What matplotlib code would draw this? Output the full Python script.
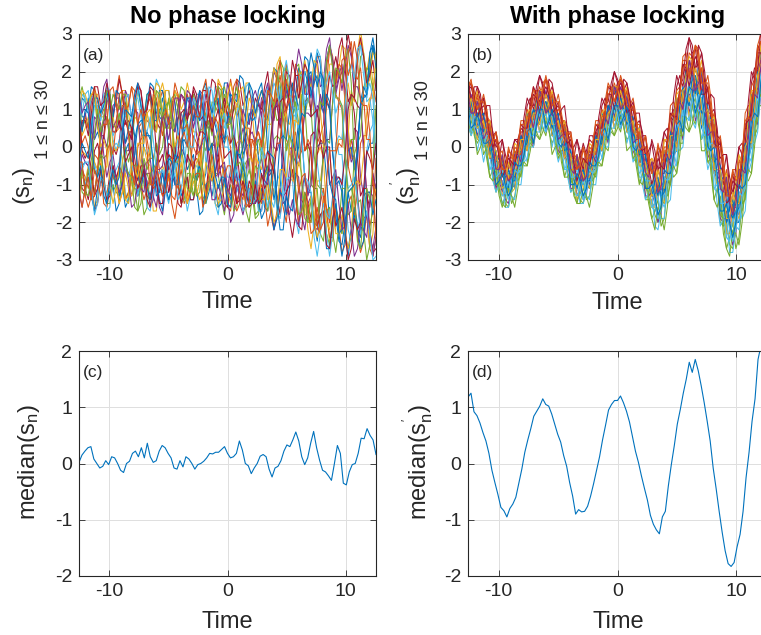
import numpy as np
import matplotlib
matplotlib.use('Agg')
import matplotlib.pyplot as plt

plt.rcParams['font.family'] = ['Liberation Sans', 'DejaVu Sans']
plt.rcParams['mathtext.fontset'] = 'custom'
plt.rcParams['mathtext.rm'] = 'Liberation Sans'
plt.rcParams['mathtext.it'] = 'Liberation Sans'
plt.rcParams['mathtext.bf'] = 'Liberation Sans:bold'
plt.rcParams['axes.unicode_minus'] = False

# MATLAB default line colour order
matlab_colors = ['#0072BD', '#D95319', '#EDB120', '#7E2F8E', '#77AC30', '#4DBEEE', '#A2142F']

t_min, t_max = -4 * np.pi, 4 * np.pi

# (a) 30 trajectories, no phase locking (values in tenths)
s_free_tenths = [
    [15,8,8,13,8,2,4,1,-9,-15,-11,-10,-17,-15,-8,-3,-8,-7,2,6,4,2,11,17,16,9,9,13,8,-2,-4,-1,-5,-13,-11,-8,-14,-14,-8,-4,-10,-7,4,8,6,2,9,17,17,12,14,14,5,-2,0,1,-4,-14,-15,-11,-16,-17,-10,-6,-14,-11,1,10,12,7,14,21,19,15,19,20,9,0,1,1,-8,-20,-21,-18,-25,-26,-20,-12,-17,-13,0,11,14,13,25,29,23],
    [-15,-6,-8,-11,-7,-2,-3,-5,2,8,6,7,14,19,14,8,11,16,15,5,6,8,2,-3,-3,1,-6,-11,-8,-8,-15,-19,-13,-10,-15,-13,-5,3,1,-5,-3,6,9,4,10,17,16,11,13,18,13,8,11,8,-1,-5,2,-1,-12,-15,-12,-9,-18,-22,-17,-12,-16,-20,-12,1,4,-3,-1,12,13,10,17,24,24,16,21,27,24,14,12,10,-3,-5,2,-2,-14,-22,-19,-18,-27,-29,-24],
    [1,-8,-9,-5,-8,-16,-14,-6,-7,-5,2,8,4,5,15,15,9,3,8,7,-1,-5,-4,-5,-17,-17,-9,-5,-7,-9,-2,10,14,10,12,17,13,4,4,2,-6,-11,-7,-7,-15,-16,-11,1,3,1,7,11,10,8,17,17,9,0,-2,2,-4,-14,-14,-11,-16,-17,-7,1,-2,-2,6,19,20,14,18,17,9,-2,0,-3,-17,-25,-25,-16,-19,-23,-17,3,15,12,22,28,24,20,25,17,-2],
    [-3,6,9,5,12,14,9,9,16,18,11,5,7,11,9,-1,-1,5,3,-6,-9,-4,-10,-13,-9,-9,-16,-18,-11,-5,-7,-10,-8,0,-2,-4,3,8,8,3,8,14,13,10,13,16,9,9,17,14,5,-2,1,5,2,-6,-9,-7,-16,-17,-10,-8,-15,-22,-18,-11,-15,-14,-6,2,-3,-5,2,9,9,8,20,23,16,17,26,29,21,14,18,20,15,0,-3,5,4,-8,-13,-12,-24,-27,-21],
    [13,5,7,6,-3,-7,-6,-1,-7,-15,-15,-10,-12,-13,-4,0,-4,-1,9,15,11,8,14,14,9,4,10,7,-3,-8,-7,-3,-9,-15,-14,-7,-7,-13,-9,0,1,-1,4,12,11,9,15,16,12,6,11,8,-2,-6,-4,-3,-13,-19,-18,-12,-12,-17,-10,2,3,2,9,16,12,11,21,22,16,8,13,10,-2,-10,-11,-11,-23,-26,-19,-16,-21,-23,-13,0,2,2,11,24,25,18,21,26,23],
    [-10,-6,-10,-7,2,11,11,7,11,16,15,2,-1,2,-4,-12,-15,-8,-11,-12,-5,0,-2,0,12,18,16,9,8,8,-1,-6,-3,-4,-11,-17,-13,-5,-5,-7,-4,9,12,10,16,16,10,0,0,-1,-10,-12,-9,-7,-16,-15,-7,1,2,2,12,16,11,11,19,15,0,-9,-8,-9,-19,-23,-15,-8,-12,-8,4,17,19,16,23,27,23,4,-2,-2,-12,-22,-25,-16,-20,-22,-14,-1,4,6,20],
    [-4,-11,-12,-6,-11,-17,-15,-9,-10,-13,-7,0,-2,1,10,12,4,4,12,16,15,7,10,16,15,7,5,7,0,-6,-4,-4,-10,-15,-10,-8,-14,-14,-9,-7,-15,-13,-4,1,0,-3,5,11,9,6,10,18,17,11,13,15,12,7,12,9,-2,-8,-7,-4,-13,-18,-13,-12,-19,-24,-18,-11,-14,-16,-11,3,4,1,9,15,13,10,20,24,19,17,24,30,25,13,11,10,1,-13,-16,-8,-11],
    [5,13,12,10,16,15,8,2,7,8,2,-7,-11,-5,-10,-16,-14,-8,-8,-13,-9,2,4,2,7,12,8,7,15,15,10,4,8,7,-2,-6,-4,-2,-11,-18,-17,-10,-9,-13,-8,2,3,1,6,14,13,12,19,18,12,6,10,7,-3,-8,-7,-5,-15,-22,-19,-12,-13,-18,-11,-2,-4,0,12,20,17,13,20,25,22,11,12,10,-2,-9,-8,-9,-23,-27,-22,-18,-22,-24,-15,-2,1,1,10],
    [7,1,3,0,-9,-12,-6,-6,-15,-16,-11,-5,-10,-15,-12,-6,-7,-13,-10,0,2,3,11,13,5,4,12,15,12,6,10,15,13,7,7,14,11,0,-2,-1,-6,-13,-10,-6,-11,-14,-11,-8,-16,-17,-10,-8,-12,-14,-7,2,2,1,6,12,8,7,16,21,18,11,16,22,18,12,14,17,8,-1,0,-1,-11,-19,-15,-11,-17,-24,-24,-16,-21,-28,-26,-15,-13,-18,-12,1,3,3,11,17,12],
    [-6,-1,-2,-3,7,14,14,8,8,13,9,0,-1,1,-3,-14,-15,-9,-11,-11,-6,0,-4,0,13,17,16,8,10,12,7,-4,-10,-4,-9,-14,-12,-9,-13,-9,4,9,6,5,11,18,16,7,6,6,1,-10,-11,-7,-11,-15,-13,-3,-4,-6,-1,6,6,8,22,24,16,7,6,9,1,-11,-14,-14,-22,-27,-20,-9,-9,-3,11,22,22,16,21,27,26,5,-3,-3,-13,-21,-21,-18,-27,-23,-10],
    [-12,-16,-11,-8,-14,-13,-7,3,3,0,5,11,12,5,9,15,13,8,10,9,-1,-8,-7,-7,-13,-16,-9,-6,-12,-12,-6,1,-3,-1,9,13,11,5,9,15,14,6,5,8,1,-6,-5,-6,-13,-20,-18,-10,-11,-13,-9,3,4,1,6,13,14,7,12,20,18,9,9,10,0,-8,-7,-8,-18,-22,-15,-13,-21,-22,-15,0,2,2,12,20,21,15,21,27,24,16,16,13,-2,-12,-12,-13,-23],
    [13,16,12,10,14,14,5,2,7,8,4,-8,-10,-6,-10,-14,-12,-6,-11,-17,-15,-8,-7,-10,-4,1,-2,0,8,13,8,5,11,16,15,7,10,14,10,4,5,9,4,-5,-7,-7,-14,-18,-12,-10,-17,-16,-10,-4,-9,-12,-8,0,2,-2,4,14,14,9,13,23,21,13,16,16,9,5,14,11,-2,-10,-11,-11,-23,-25,-17,-16,-23,-28,-21,-11,-11,-18,-17,-2,1,3,15,21,20,15,22],
    [11,9,14,15,7,-4,-8,-5,-9,-17,-16,-7,-6,-4,4,9,5,5,13,13,8,3,9,5,-6,-12,-12,-6,-10,-14,-11,-1,2,-1,7,13,12,10,14,14,5,-4,-6,-7,-15,-18,-11,-5,-8,-8,-2,9,11,9,16,17,12,7,12,4,-11,-16,-13,-9,-17,-19,-12,0,3,0,9,19,19,11,12,19,14,-4,-11,-13,-23,-29,-23,-11,-9,-9,-2,12,14,13,22,27,24,12,13,7,-9],
    [-10,-5,-11,-14,-9,-1,1,-3,3,12,13,9,12,18,14,6,7,5,-3,-9,-5,-5,-13,-14,-9,-4,-10,-13,-8,-2,-3,-3,7,14,13,8,9,16,14,7,8,6,-2,-9,-7,-3,-8,-15,-16,-8,-11,-15,-11,0,4,1,8,13,11,10,16,20,12,7,13,9,-2,-12,-10,-6,-12,-21,-22,-12,-15,-19,-14,-2,2,1,12,19,16,17,26,29,21,12,14,9,-3,-13,-11,-11,-22,-28,-27],
    [1,-5,-4,-5,-13,-17,-11,-6,-9,-13,-12,-5,-9,-13,-10,-1,1,-5,-2,6,7,7,14,15,7,7,15,15,10,6,12,12,4,1,4,7,0,-8,-9,-5,-8,-15,-12,-7,-11,-16,-15,-8,-12,-14,-8,-2,-2,-5,3,9,7,8,15,17,10,7,15,21,20,11,14,17,11,1,-1,7,3,-9,-12,-12,-20,-25,-18,-17,-27,-27,-19,-15,-23,-22,-11,-1,0,-6,-1,12,16,14,20,27,23],
    [-3,5,8,5,13,16,12,8,10,10,0,-8,-9,-5,-7,-14,-12,-7,-10,-7,2,9,7,6,14,13,7,3,10,8,-2,-9,-11,-6,-11,-15,-12,-4,-3,-5,4,12,12,9,13,16,9,2,3,0,-9,-15,-11,-9,-15,-16,-11,2,4,1,6,14,14,8,15,19,13,2,0,-1,-14,-20,-17,-13,-18,-20,-11,1,3,6,17,26,23,17,22,21,12,-5,-9,-11,-24,-28,-25,-17,-21,-17,-3],
    [11,3,5,8,3,-4,-6,-3,-10,-13,-9,-6,-9,-15,-12,-7,-11,-13,-10,1,1,1,9,10,5,4,14,17,13,7,7,15,13,6,8,6,-1,-7,-4,-2,-9,-13,-11,-5,-9,-15,-14,-10,-12,-15,-9,1,2,1,6,13,11,8,13,15,11,6,14,21,18,8,7,9,0,-9,-9,-4,-7,-18,-18,-13,-19,-24,-21,-14,-20,-22,-15,-2,2,2,14,17,11,14,25,31,25,16,18,25,24],
    [-9,-2,-4,-5,-1,8,7,3,7,13,14,8,13,13,5,1,3,3,-8,-13,-11,-7,-9,-16,-14,-6,-6,-5,2,8,5,4,11,14,12,8,14,12,3,-1,2,3,-6,-14,-14,-10,-13,-17,-11,-6,-10,-6,4,10,7,6,13,15,12,8,14,17,10,0,-1,2,-7,-17,-18,-14,-19,-21,-12,-7,-13,-10,1,11,10,11,23,27,23,15,19,22,15,1,-4,-2,-12,-22,-22,-18,-22,-29,-24],
    [-6,-12,-13,-6,-9,-12,-7,-2,-3,-2,9,14,12,10,14,14,5,-4,-5,-5,-11,-18,-16,-7,-6,-4,4,9,5,5,13,14,10,5,10,4,-11,-13,-9,-6,-13,-15,-9,0,3,0,8,14,12,9,13,16,10,-4,-9,-6,-9,-18,-17,-8,-8,-6,3,11,7,8,20,21,14,7,12,6,-10,-19,-20,-14,-20,-21,-13,-1,2,1,12,21,20,17,23,26,17,-4,-15,-14,-22,-30,-26,-13,-10],
    [6,14,13,9,13,14,10,7,14,15,8,3,5,9,4,-6,-8,-4,-7,-13,-9,-8,-16,-17,-12,-7,-12,-12,-4,-3,-9,-7,4,9,7,2,4,13,12,7,11,16,15,8,11,12,6,5,11,8,-4,-9,-7,-3,-6,-14,-13,-11,-17,-17,-12,-7,-14,-16,-9,-7,-13,-11,2,11,10,5,9,20,20,15,21,26,24,14,17,20,14,9,12,11,-2,-11,-10,-8,-14,-23,-21,-17,-23,-30,-29],
    [9,-1,-3,-1,-6,-13,-11,-6,-10,-14,-13,-5,-8,-6,4,7,4,2,11,17,15,9,10,15,10,-1,-4,-2,-6,-12,-9,-8,-15,-16,-11,-2,-4,-6,-1,4,4,3,12,18,17,10,9,13,8,1,3,0,-9,-17,-15,-9,-11,-15,-13,-7,-11,-9,2,10,11,5,12,20,19,15,19,19,8,-1,1,-2,-13,-21,-18,-17,-26,-27,-20,-8,-8,-10,-2,10,14,13,25,29,24,17,19,23,15],
    [-4,1,-1,-3,5,13,13,9,11,15,10,8,15,14,8,1,5,8,3,-7,-11,-6,-11,-14,-9,-8,-14,-17,-10,-3,-4,-10,-10,1,2,0,7,11,9,7,15,17,12,9,12,13,4,2,8,8,2,-8,-9,-5,-10,-15,-15,-9,-14,-19,-17,-7,-6,-14,-10,2,3,2,9,17,14,10,17,24,23,14,17,19,12,9,14,12,-1,-10,-9,-12,-24,-29,-22,-16,-21,-27,-25,-12,-12,-18,-14],
    [-11,-16,-11,-8,-14,-13,-6,5,6,6,15,16,11,6,11,11,3,-6,-10,-5,-10,-14,-11,-8,-11,-10,0,8,9,6,10,17,14,5,5,6,1,-8,-7,-7,-16,-14,-7,-2,-8,-7,2,9,11,8,16,18,13,6,5,5,-5,-13,-14,-10,-13,-21,-17,-3,1,1,10,18,14,13,22,19,9,-1,2,0,-12,-21,-23,-13,-16,-20,-14,-2,1,0,12,25,28,19,18,21,13,2,2,-7,-25],
    [9,15,14,11,14,15,6,0,2,-1,-10,-15,-11,-6,-9,-14,-13,-4,-6,-8,-3,6,9,5,11,15,11,10,15,15,6,0,3,-1,-11,-15,-10,-6,-11,-14,-12,-4,-7,-9,-3,6,10,7,14,17,13,11,15,16,8,-2,-4,-1,-5,-14,-14,-9,-14,-20,-18,-6,-6,-8,0,7,7,6,18,23,18,16,23,22,10,0,0,-1,-11,-23,-23,-18,-23,-27,-23,-10,-9,-10,-2,9,13,13,25],
    [14,9,11,12,4,2,9,6,-2,-8,-4,-2,-8,-12,-10,-4,-9,-16,-15,-10,-11,-12,-4,-3,-10,-7,2,9,6,2,7,13,13,6,9,15,14,8,9,14,10,4,7,6,-1,-8,-5,-4,-11,-13,-9,-7,-15,-18,-14,-11,-15,-15,-5,-3,-9,-10,-3,10,12,6,10,15,12,10,20,26,22,14,14,19,12,8,14,10,-1,-10,-8,-6,-15,-22,-21,-15,-22,-29,-27,-20,-22,-24,-14,-7,-11],
    [-11,-6,-12,-13,-7,4,10,4,8,15,14,6,5,9,4,-5,-7,-8,-16,-17,-9,-3,-6,-3,6,15,14,8,11,12,7,-4,-4,0,-5,-11,-12,-7,-13,-12,-4,4,7,3,10,16,15,7,5,8,1,-5,-4,-7,-17,-20,-13,-5,-6,-3,5,15,14,11,19,17,8,-1,3,1,-11,-18,-17,-12,-20,-20,-11,4,12,11,23,27,21,13,13,11,-3,-12,-11,-14,-25,-27,-18,-11,-14,-5,11],
    [-1,-6,-4,-4,-11,-18,-15,-8,-9,-13,-11,0,1,0,7,13,14,7,11,15,12,5,4,8,2,-6,-7,-6,-12,-15,-9,-7,-14,-12,-5,3,0,0,8,11,9,7,16,15,7,4,7,9,2,-7,-9,-6,-10,-17,-15,-11,-15,-14,-7,0,-3,-1,12,17,15,11,19,23,18,9,8,11,3,-8,-9,-12,-24,-29,-23,-15,-18,-19,-13,1,3,2,11,20,22,18,26,27,19,14,17,13,-2],
    [2,7,7,3,9,16,16,11,12,17,12,4,4,7,4,-4,-2,0,-7,-11,-9,-6,-14,-16,-10,-9,-15,-15,-6,1,0,-4,-2,9,10,7,12,15,12,8,15,15,8,4,7,10,4,-3,-2,-1,-7,-15,-14,-9,-12,-16,-15,-10,-15,-14,-6,-1,-4,-7,1,12,13,10,15,23,19,13,17,22,20,8,9,10,2,-3,0,0,-13,-21,-19,-16,-22,-30,-27,-19,-22,-20,-11,-1,-3,-6,1],
    [9,4,10,9,1,-6,-8,-5,-13,-15,-9,-6,-10,-8,4,10,9,8,14,17,11,3,3,3,-4,-13,-12,-7,-11,-14,-11,-2,-3,-2,8,13,13,7,11,15,11,2,-1,1,-7,-11,-8,-8,-15,-16,-7,-1,-3,0,10,17,15,9,12,15,12,-1,-2,-3,-15,-22,-22,-13,-16,-17,-8,4,9,8,19,25,21,16,20,18,4,-9,-13,-14,-23,-29,-24,-12,-11,-10,-2,11,13,14,25,27,21],
    [-4,-4,-13,-16,-13,-6,-9,-13,-10,-1,1,-2,6,14,15,10,11,16,11,6,10,7,-1,-10,-10,-5,-9,-13,-12,-7,-13,-14,-7,2,4,0,6,11,8,8,15,18,11,5,8,6,-2,-8,-5,-5,-14,-17,-15,-10,-16,-15,-6,2,4,0,6,15,14,12,19,23,15,9,13,8,-4,-12,-8,-7,-16,-23,-22,-16,-22,-20,-9,-1,-1,-1,12,23,24,19,22,28,23,12,11,11,4,-10,-13],
]

# (b) 30 trajectories, with phase locking (values in tenths)
s_locked_tenths = [
    [15,9,9,11,8,4,8,4,-3,-6,-4,-3,-11,-10,-5,-1,-3,-5,1,8,10,7,8,14,13,9,11,10,5,1,6,5,-1,-6,-5,-3,-9,-8,-4,-1,-3,-5,0,7,8,7,13,16,12,8,9,11,8,2,5,3,-3,-7,-6,-5,-12,-13,-7,-1,-4,-1,8,13,9,8,18,19,15,14,21,20,12,2,3,6,0,-9,-12,-12,-20,-20,-12,-6,-6,-8,0,12,15,14,22,30,29],
    [17,17,11,7,12,13,10,2,1,4,-1,-6,-7,-1,-2,-4,1,4,4,5,12,16,12,12,17,18,13,7,9,10,8,2,2,3,-4,-5,-2,0,-5,-6,1,4,3,4,12,17,15,12,14,18,16,8,9,10,7,0,0,3,-3,-7,-7,0,-2,-6,0,8,10,7,13,23,23,19,21,27,25,14,14,15,11,1,-1,2,-5,-12,-14,-7,-8,-11,-5,5,9,8,15,26,28,26,31],
    [11,7,12,11,7,3,6,5,-3,-5,-4,-4,-10,-12,-6,-3,-5,-4,3,8,6,6,11,13,10,7,13,12,7,1,2,5,1,-5,-8,-4,-6,-11,-9,-3,-2,-4,0,8,8,7,10,15,15,9,11,10,6,2,4,4,-4,-7,-6,-5,-11,-14,-8,-1,-1,-3,3,13,13,11,15,21,20,13,16,18,14,4,3,6,-1,-10,-14,-10,-15,-21,-17,-8,-5,-6,1,13,15,15,21,28,28],
    [13,11,6,3,7,8,1,-2,-2,-2,-9,-12,-8,-7,-11,-10,-4,3,2,1,4,9,9,4,8,11,11,5,5,8,3,-2,-4,-2,-7,-13,-11,-7,-8,-10,-6,2,2,0,3,9,10,5,9,12,12,5,5,6,-1,-4,-3,-3,-10,-16,-15,-10,-11,-13,-8,2,2,0,5,14,15,9,13,18,17,7,6,9,3,-6,-9,-7,-13,-23,-23,-16,-16,-18,-13,-1,1,1,7,18,21,15,20],
    [6,3,7,8,2,0,2,0,-8,-12,-9,-10,-15,-16,-11,-6,-9,-7,-1,3,1,0,7,8,5,3,8,8,1,-2,0,0,-7,-12,-10,-10,-14,-15,-11,-6,-9,-7,-1,3,0,-1,7,8,6,4,9,9,2,-3,-4,-2,-6,-14,-14,-14,-18,-20,-15,-9,-13,-10,-2,4,1,1,11,12,8,6,12,12,2,-4,-5,-3,-9,-20,-21,-20,-26,-27,-20,-13,-17,-13,-3,4,3,5,17,19,16],
    [10,11,4,2,5,5,-1,-6,-4,-5,-11,-15,-13,-7,-9,-10,-8,-1,-1,-4,2,7,8,4,7,12,9,3,2,4,1,-6,-6,-5,-9,-14,-13,-7,-10,-11,-8,-1,0,-3,2,7,8,5,8,13,10,4,3,4,0,-8,-8,-7,-10,-16,-17,-10,-14,-16,-12,-2,-1,-5,2,10,12,7,10,16,13,5,3,5,0,-11,-12,-11,-16,-24,-25,-17,-19,-20,-16,-5,-2,-4,4,14,18,13,17],
    [18,13,13,16,14,6,7,7,4,-3,-3,2,-2,-5,-5,2,2,-1,5,11,13,10,13,19,17,13,14,16,13,5,6,7,5,-2,-3,2,-1,-4,-4,3,3,0,5,11,13,10,14,20,18,14,15,17,13,5,6,7,4,-3,-4,2,-1,-6,-5,4,5,1,8,16,19,16,21,29,27,21,22,25,20,9,9,10,5,-5,-7,-2,-8,-12,-10,0,1,-1,7,17,21,20,27,35,33],
    [10,12,9,2,4,6,4,-3,-4,-1,-6,-10,-11,-6,-8,-11,-6,0,1,0,6,10,7,7,11,12,8,3,7,6,1,-3,-1,-1,-9,-10,-8,-6,-10,-11,-4,0,-1,-1,6,11,8,8,12,13,9,4,7,5,0,-5,-5,-2,-8,-12,-12,-9,-14,-15,-6,-1,-2,-1,8,15,12,11,16,18,12,5,9,7,-1,-7,-6,-6,-16,-20,-19,-15,-20,-20,-10,-3,-3,0,11,19,17,17,23],
    [14,9,13,13,9,5,8,7,-1,-3,-2,-1,-7,-9,-4,-1,-2,-2,5,10,8,8,13,16,13,10,15,14,9,5,7,7,0,-3,-3,-2,-7,-9,-4,-1,-2,-2,5,10,8,9,14,17,14,11,16,14,9,4,6,6,-2,-5,-4,-3,-8,-11,-4,2,1,-1,5,15,16,14,18,25,24,16,19,21,17,7,6,9,2,-7,-10,-6,-11,-17,-13,-4,-2,-3,4,16,18,18,24,31,30],
    [11,10,5,2,6,7,0,-3,-3,-3,-10,-13,-9,-8,-12,-11,-5,2,0,-1,3,9,9,4,8,11,10,3,3,6,2,-3,-5,-3,-8,-14,-12,-8,-9,-11,-7,1,1,0,3,9,9,5,9,12,11,4,4,7,2,-4,-7,-5,-9,-16,-16,-11,-12,-15,-10,1,1,-1,4,13,14,8,12,16,15,6,5,8,2,-7,-10,-8,-14,-23,-23,-17,-17,-19,-14,-2,0,0,6,17,20,14,19],
    [8,4,7,9,3,0,2,1,-6,-11,-8,-9,-14,-15,-10,-4,-6,-6,-3,3,4,0,5,9,9,4,6,9,5,-1,-2,1,-3,-11,-11,-8,-10,-14,-13,-5,-6,-6,-3,3,4,1,6,10,10,5,7,10,5,-1,-3,-1,-5,-13,-13,-12,-15,-20,-18,-8,-9,-10,-5,4,6,2,9,14,14,7,9,13,7,-2,-4,-2,-8,-19,-20,-17,-21,-26,-23,-12,-12,-12,-6,5,8,6,14,20,21],
    [9,10,3,1,3,3,-3,-8,-6,-7,-13,-16,-13,-10,-15,-13,-8,-3,-5,-5,3,5,3,2,7,9,4,1,3,3,-4,-8,-5,-7,-13,-15,-11,-8,-14,-13,-8,-3,-5,-5,2,5,4,3,8,10,5,2,3,2,-5,-10,-7,-9,-15,-19,-17,-14,-21,-19,-11,-5,-8,-7,3,7,5,4,11,13,6,2,4,3,-7,-14,-11,-14,-23,-27,-24,-20,-27,-24,-15,-8,-9,-7,5,11,11,10,18],
    [6,3,5,6,1,-4,0,-2,-9,-12,-10,-9,-16,-16,-12,-8,-10,-10,-3,1,0,0,6,9,5,4,7,6,0,-4,-1,-2,-8,-12,-11,-9,-15,-15,-12,-8,-10,-10,-3,1,0,0,6,10,6,5,8,7,1,-4,-2,-4,-10,-14,-12,-12,-21,-22,-17,-12,-15,-14,-4,1,-1,0,9,13,7,5,10,9,0,-6,-3,-6,-15,-21,-19,-18,-28,-28,-22,-16,-19,-17,-5,1,1,4,15,19,14],
    [15,17,14,8,10,11,9,3,3,4,-3,-5,-4,-2,-6,-6,2,5,4,4,11,16,14,12,14,18,16,9,10,11,8,3,4,4,-5,-6,-3,1,-2,-5,-1,4,6,4,9,16,15,14,17,18,13,8,12,10,5,1,3,3,-6,-6,-3,-1,-7,-7,3,8,7,7,16,22,19,19,25,26,20,14,18,15,7,1,3,2,-9,-12,-10,-7,-12,-11,-1,5,5,8,19,27,25,25,32],
    [13,8,12,12,8,4,7,6,-2,-4,-3,-3,-9,-11,-5,-2,-3,-3,4,9,7,7,12,15,12,9,14,13,8,4,6,6,-1,-4,-4,-3,-8,-10,-5,-2,-3,-3,4,9,7,8,13,16,13,10,15,13,8,3,5,5,-3,-6,-5,-4,-10,-13,-6,-2,-4,-3,7,13,10,12,20,23,18,14,21,19,11,5,8,7,-4,-9,-8,-8,-17,-19,-11,-6,-8,-5,6,14,12,16,26,29,25],
    [16,17,15,10,11,14,10,4,2,4,0,-6,-5,-1,-2,-4,0,7,7,6,10,15,15,11,15,18,17,11,11,14,9,4,3,4,-1,-6,-4,-1,-2,-4,0,7,7,6,10,16,16,12,16,18,17,11,11,13,8,2,1,3,-2,-7,-5,0,-1,-4,1,11,12,10,15,24,25,19,23,27,26,17,16,19,13,4,1,3,-3,-12,-12,-6,-6,-8,-3,9,11,11,17,27,30,25,31],
    [16,10,11,15,11,6,6,7,2,-5,-4,-2,-5,-8,-6,1,0,-1,3,9,10,6,11,15,15,10,12,15,11,6,5,7,3,-5,-5,-2,-4,-8,-6,1,0,-1,3,9,10,7,12,16,16,11,13,16,11,5,4,5,1,-6,-6,-3,-4,-10,-8,2,2,1,6,14,15,12,19,24,23,17,20,23,16,8,7,8,1,-9,-9,-7,-12,-15,-10,-2,-5,-2,8,15,15,16,27,30,28],
    [11,14,10,6,6,8,5,-3,-3,-2,-5,-10,-10,-4,-7,-8,-5,2,2,-1,5,9,10,7,10,15,12,7,6,8,4,-3,-2,-2,-6,-10,-9,-4,-7,-8,-5,2,2,-1,5,10,11,8,11,16,13,7,6,7,3,-4,-4,-3,-7,-13,-13,-6,-9,-11,-7,3,4,0,7,15,17,12,15,21,18,10,8,10,5,-6,-7,-6,-11,-19,-20,-12,-14,-15,-11,0,3,1,9,19,23,18,22],
    [7,4,6,8,5,-2,0,0,-4,-10,-10,-6,-11,-13,-12,-6,-6,-8,-2,2,2,1,7,11,8,6,8,8,3,-3,-1,0,-3,-9,-10,-7,-12,-13,-10,-5,-7,-8,-2,2,2,2,8,11,7,6,9,9,4,-3,-2,-1,-5,-11,-12,-9,-14,-18,-17,-8,-8,-10,-2,3,3,3,11,16,11,8,12,13,6,-4,-3,-3,-9,-18,-19,-15,-22,-24,-20,-13,-15,-14,-3,4,5,7,17,23,20],
    [9,9,4,-1,3,3,-1,-6,-5,-4,-11,-13,-12,-9,-13,-14,-7,-3,-4,-3,3,7,4,4,8,9,5,0,4,3,-2,-6,-4,-4,-12,-13,-11,-9,-13,-14,-7,-3,-4,-3,3,8,5,5,9,10,6,1,4,2,-3,-7,-6,-5,-13,-16,-15,-13,-19,-19,-9,-4,-6,-4,5,11,8,7,13,14,8,2,6,4,-4,-11,-10,-9,-18,-24,-25,-19,-21,-22,-13,-7,-7,-4,7,15,13,13,20],
    [17,12,16,16,12,8,11,11,3,0,1,2,-4,-6,-1,2,1,1,8,13,11,11,16,19,16,13,18,17,12,8,10,11,4,0,0,2,-3,-6,-1,2,1,1,8,13,11,12,17,20,17,13,18,17,12,7,9,9,2,-2,-1,1,-4,-7,0,4,2,3,13,19,16,18,26,29,24,20,27,25,17,11,14,13,2,-3,-2,-2,-11,-13,-5,0,-2,1,12,20,18,21,31,35,32],
    [13,12,8,5,8,9,3,-1,-1,-1,-7,-11,-8,-6,-9,-9,-3,3,0,1,7,10,8,6,12,12,9,5,8,9,2,-1,0,-1,-8,-11,-7,-6,-9,-9,-3,3,0,1,7,11,9,7,13,13,10,6,8,8,1,-2,-2,-2,-9,-13,-9,-8,-13,-12,-3,4,0,2,11,16,13,11,19,19,14,9,12,11,1,-4,-3,-5,-15,-20,-16,-14,-18,-16,-7,1,-1,3,13,20,19,17,26],
    [15,9,10,14,10,5,5,6,1,-6,-5,-3,-6,-9,-7,0,-1,-2,2,8,9,5,10,14,14,9,11,14,10,5,4,6,2,-6,-6,-3,-5,-9,-7,0,-1,-2,2,8,9,6,11,15,15,10,12,15,10,4,3,4,0,-7,-7,-4,-6,-12,-10,0,0,-2,3,12,14,10,16,22,22,15,17,21,15,6,4,6,0,-11,-12,-9,-13,-18,-15,-4,-4,-4,2,13,16,14,22,28,29],
    [10,13,9,5,6,7,3,-3,-1,-1,-6,-11,-10,-4,-7,-7,-4,2,2,-1,5,9,9,6,10,14,11,6,6,7,3,-3,-1,-2,-8,-10,-7,-3,-8,-8,-5,2,2,-1,5,9,10,7,11,15,12,7,6,7,2,-5,-4,-4,-8,-13,-12,-6,-10,-11,-6,3,3,0,8,15,16,12,16,21,17,10,9,10,4,-6,-6,-6,-12,-19,-19,-12,-15,-15,-10,0,2,1,10,19,22,18,23],
    [14,9,9,12,9,2,4,4,0,-6,-6,-2,-7,-9,-8,-2,-2,-4,1,6,8,5,9,15,13,9,10,12,9,2,3,4,1,-6,-7,-2,-6,-9,-8,-2,-2,-4,1,6,8,6,10,16,14,10,11,13,9,1,2,2,-1,-7,-8,-4,-8,-12,-11,-2,-2,-5,3,10,12,10,16,23,20,15,17,19,13,3,4,4,-2,-11,-12,-8,-15,-18,-15,-6,-6,-7,2,11,14,13,21,29,27],
    [5,7,4,-2,0,2,-1,-8,-9,-6,-11,-15,-16,-11,-13,-16,-11,-5,-4,-5,-1,5,4,2,4,7,5,-2,0,1,-2,-8,-8,-6,-12,-15,-15,-11,-13,-16,-11,-5,-4,-5,-1,6,5,3,5,8,6,-1,0,1,-3,-9,-10,-7,-13,-19,-22,-16,-18,-22,-16,-7,-5,-7,-2,8,8,4,6,11,9,-1,-1,1,-4,-14,-16,-13,-20,-27,-29,-22,-23,-26,-20,-10,-6,-7,0,12,14,10,13],
    [9,4,8,8,4,0,3,3,-5,-8,-7,-6,-12,-14,-9,-6,-7,-6,0,5,3,3,8,11,8,4,9,8,4,0,2,3,-4,-8,-8,-6,-11,-14,-9,-6,-7,-6,0,5,3,4,9,12,9,5,10,9,4,-1,1,2,-6,-9,-9,-9,-15,-19,-13,-8,-9,-8,0,7,5,6,13,17,13,8,14,13,6,-1,1,1,-9,-15,-15,-14,-22,-25,-18,-12,-13,-11,-1,8,7,10,19,23,20],
    [15,16,13,8,10,13,8,2,0,2,-3,-8,-6,-3,-4,-5,-1,6,5,5,9,14,13,9,14,16,14,9,10,12,7,2,1,2,-4,-9,-6,-3,-4,-5,-1,6,5,5,9,14,14,10,15,17,15,9,10,12,6,0,-1,0,-5,-10,-7,-3,-5,-6,1,9,8,8,15,22,21,16,21,24,22,14,14,16,9,1,0,1,-7,-15,-14,-9,-10,-11,-4,6,7,9,17,25,25,22,30],
    [11,5,6,9,5,1,1,2,-3,-10,-9,-7,-10,-13,-11,-4,-5,-5,-2,4,5,1,6,10,10,5,7,10,6,1,0,2,-2,-10,-10,-7,-9,-13,-11,-4,-5,-5,-2,4,5,2,7,11,11,6,8,11,6,0,-1,1,-4,-11,-11,-10,-13,-18,-16,-6,-7,-7,-2,6,7,4,11,16,15,9,12,15,8,0,-1,0,-7,-17,-17,-15,-20,-24,-20,-10,-11,-10,-3,7,9,8,17,22,22],
    [16,18,12,10,12,12,7,0,2,2,-1,-6,-6,0,-3,-3,0,6,6,3,9,13,14,11,15,19,15,11,12,12,6,1,4,3,-2,-6,-5,0,-3,-3,1,6,6,3,9,14,15,12,15,19,16,11,10,11,7,-1,0,0,-4,-7,-5,1,-3,-4,0,8,9,6,14,21,22,18,22,27,23,17,17,17,10,0,0,0,-6,-13,-13,-6,-9,-8,-2,7,8,7,16,25,28,25,30],
]

# (c) median without phase locking
median_free = [0.02,0.15,0.22,0.28,0.30,0.08,0.0,-0.08,-0.05,0.05,
               -0.02,0.12,0.10,0.0,-0.12,-0.16,0.0,0.04,0.18,0.22,
               0.12,0.28,0.10,0.36,0.12,0.02,0.05,0.22,0.32,0.28,
               0.18,0.10,-0.08,-0.10,0.05,-0.06,0.12,0.08,0.0,-0.10,
               -0.02,0.0,0.04,0.10,0.18,0.17,0.20,0.20,0.25,0.30,
               0.18,0.10,0.12,0.18,0.40,0.24,0.0,-0.04,-0.18,-0.08,
               0.0,0.13,0.16,0.12,-0.10,-0.24,-0.08,-0.05,0.05,0.22,
               0.33,0.30,0.42,0.56,0.40,0.12,-0.02,0.10,0.36,0.57,
               0.28,0.06,-0.12,-0.15,-0.22,-0.30,0.0,0.32,0.18,-0.35,
               -0.38,-0.15,-0.02,0.0,0.18,0.45,0.44,0.62,0.50,0.42,0.16]

# (d) median with phase locking
median_locked = [1.18,1.25,0.92,0.85,0.72,0.55,0.40,0.18,-0.12,-0.34,
                 -0.55,-0.78,-0.84,-0.95,-0.80,-0.72,-0.60,-0.35,-0.10,0.20,
                 0.42,0.62,0.84,0.93,1.02,1.15,1.05,1.02,0.88,0.70,
                 0.52,0.38,0.14,-0.05,-0.34,-0.58,-0.90,-0.82,-0.86,-0.85,
                 -0.76,-0.58,-0.36,-0.12,0.12,0.42,0.68,0.95,1.05,1.12,
                 1.12,1.20,1.08,0.93,0.74,0.48,0.22,0.02,-0.22,-0.44,
                 -0.65,-0.92,-1.08,-1.18,-1.25,-0.95,-0.85,-0.40,-0.02,0.32,
                 0.70,0.96,1.25,1.50,1.80,1.62,1.85,1.65,1.38,1.08,
                 0.75,0.40,-0.08,-0.45,-0.85,-1.22,-1.55,-1.78,-1.83,-1.76,
                 -1.48,-1.26,-0.85,-0.25,0.20,0.75,1.15,1.85,2.10,2.30,2.40]

W, H = 761.0, 635.0
DARK = '#262626'


def matlab_axes(ax, yticks):
    ax.set_xlim(t_min, t_max)
    ax.set_ylim(yticks[0], yticks[-1])
    ax.set_xticks([-10, 0, 10])
    ax.set_yticks(yticks)
    ax.grid(True, color='#dfdfdf', linewidth=0.7)
    ax.set_axisbelow(True)
    ax.tick_params(direction='in', top=True, right=True, length=4, width=0.6,
                   colors=DARK, labelsize=14, pad=5)
    for sp in ax.spines.values():
        sp.set_color(DARK)
        sp.set_linewidth(0.8)


def px_text(x, y, s, **kw):
    # place text at pixel position of the 761x635 canvas (y from top)
    fig.text(x / W, 1 - y / H, s, color=DARK, **kw)


fig = plt.figure(figsize=(7.61, 6.35), dpi=100)
ax_a = fig.add_axes([79 / W, 1 - 260 / H, 297 / W, 226 / H])
ax_b = fig.add_axes([468 / W, 1 - 260 / H, 299 / W, 226 / H])
ax_c = fig.add_axes([79 / W, 1 - 576 / H, 297 / W, 225 / H])
ax_d = fig.add_axes([468 / W, 1 - 576 / H, 299 / W, 225 / H])

for i, row in enumerate(s_free_tenths):
    t = np.linspace(t_min, t_max, len(row))
    ax_a.plot(t, np.array(row) / 10.0, color=matlab_colors[i % 7], lw=0.75)
for i, row in enumerate(s_locked_tenths):
    t = np.linspace(t_min, t_max, len(row))
    ax_b.plot(t, np.array(row) / 10.0, color=matlab_colors[i % 7], lw=0.75)

t_med = np.linspace(t_min, t_max, len(median_free))
ax_c.plot(t_med, median_free, color=matlab_colors[0], lw=0.8)
t_med = np.linspace(t_min, t_max, len(median_locked))
ax_d.plot(t_med, median_locked, color=matlab_colors[0], lw=0.8)

matlab_axes(ax_a, [-3, -2, -1, 0, 1, 2, 3])
matlab_axes(ax_b, [-3, -2, -1, 0, 1, 2, 3])
matlab_axes(ax_c, [-2, -1, 0, 1, 2])
matlab_axes(ax_d, [-2, -1, 0, 1, 2])

ax_a.set_title('No phase locking', fontsize=17, fontweight='bold', pad=8)
ax_b.set_title('With phase locking', fontsize=17, fontweight='bold', pad=8)

# y labels: main part plus the large "1 <= n <= 30" subscript
px_text(24, 186, r'$(s_n)$', fontsize=17, rotation=90, ha='center', va='center')
px_text(44, 119, '1 \u2264 n \u2264 30', fontsize=13, rotation=90, ha='center', va='center')
px_text(406, 186, r"$(s^{'}_n)$", fontsize=17, rotation=90, ha='center', va='center')
px_text(424, 120, '1 \u2264 n \u2264 30', fontsize=13, rotation=90, ha='center', va='center')
px_text(29, 462, r'median$(s_n)$', fontsize=17, rotation=90, ha='center', va='center')
px_text(418, 462, r"median$(s^{'}_n)$", fontsize=17, rotation=90, ha='center', va='center')

# x labels
px_text(227, 308, 'Time', fontsize=17, ha='center', va='baseline')
px_text(617, 309, 'Time', fontsize=17, ha='center', va='baseline')
px_text(227, 628, 'Time', fontsize=17, ha='center', va='baseline')
px_text(618, 628, 'Time', fontsize=17, ha='center', va='baseline')

for ax, lab in zip([ax_a, ax_b, ax_c, ax_d], ['(a)', '(b)', '(c)', '(d)']):
    ax.text(0.012, 0.937, lab, transform=ax.transAxes, ha='left', va='top',
            fontsize=12.5, color=DARK)

fig.savefig('out.png', dpi=100)
